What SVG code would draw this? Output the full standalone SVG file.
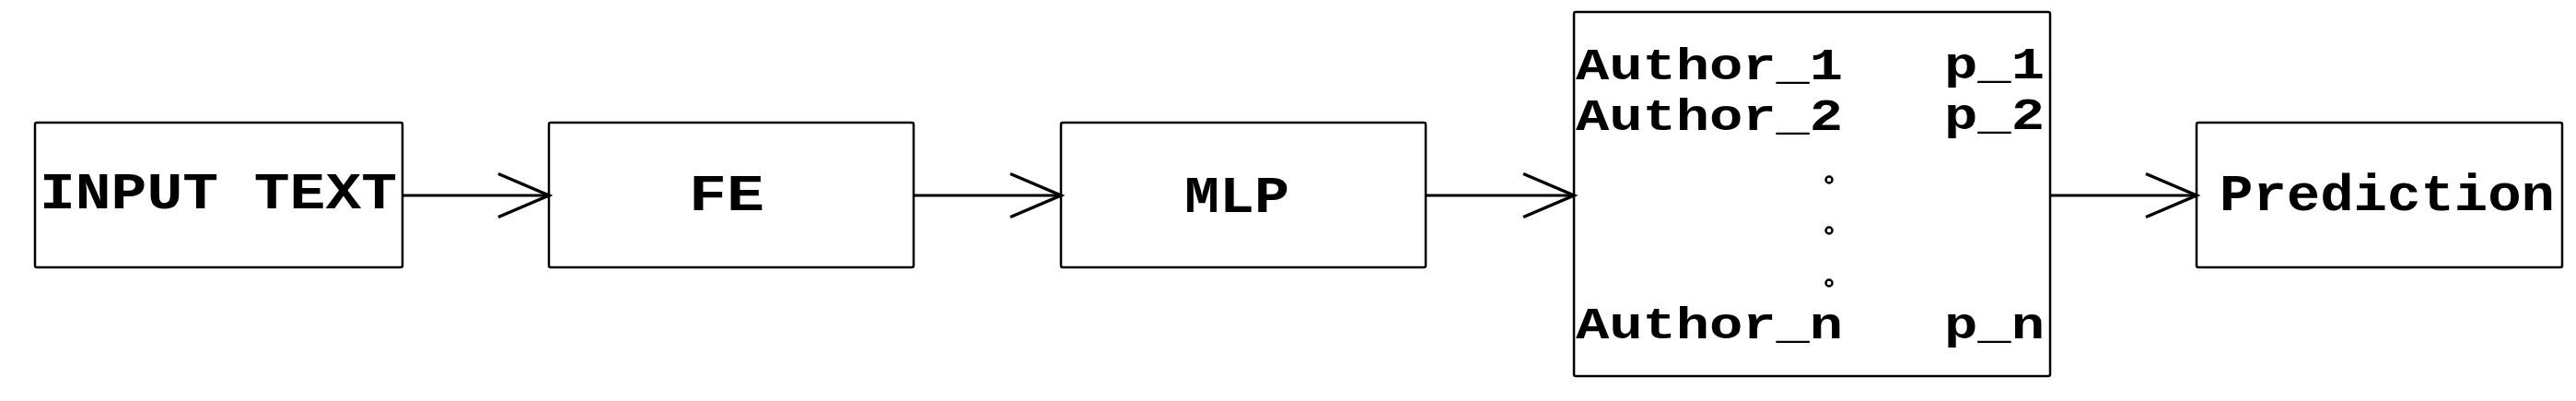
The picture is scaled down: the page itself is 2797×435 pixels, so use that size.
<svg xmlns="http://www.w3.org/2000/svg" width="2797" height="435" viewBox="0 0 2797 435">
<style>
.box{fill:#fff;stroke:#000;stroke-width:2.5}
.lbl{font-family:"Liberation Mono","Courier New",monospace;font-weight:bold;font-size:55px;fill:#000}
.sm{font-size:48px}
.edge{stroke:#000;stroke-width:3;fill:none}
.head{stroke:#000;stroke-width:3.5;fill:none;stroke-linecap:butt}
.dot{fill:none;stroke:#000;stroke-width:2.5}
</style>
<g id="input">
<rect class="box" x="38" y="133" width="399" height="157" rx="2"/>
<text class="lbl" x="43" y="226" textLength="388" lengthAdjust="spacingAndGlyphs">INPUT TEXT</text>
</g>
<g id="fe">
<rect class="box" x="596" y="133" width="396" height="157" rx="2"/>
<text class="lbl" x="748" y="228" textLength="82" lengthAdjust="spacingAndGlyphs">FE</text>
</g>
<g id="mlp">
<rect class="box" x="1152" y="133" width="396" height="157" rx="2"/>
<text class="lbl" x="1286" y="230" textLength="114" lengthAdjust="spacingAndGlyphs">MLP</text>
</g>
<g id="authors">
<rect class="box" x="1709" y="13" width="517" height="395" rx="2"/>
<text class="lbl sm" x="1711" y="86" textLength="290" lengthAdjust="spacingAndGlyphs">Author_1</text>
<text class="lbl sm" x="2111" y="85" textLength="109" lengthAdjust="spacingAndGlyphs">p_1</text>
<text class="lbl sm" x="1711" y="141" textLength="290" lengthAdjust="spacingAndGlyphs">Author_2</text>
<text class="lbl sm" x="2111" y="140" textLength="109" lengthAdjust="spacingAndGlyphs">p_2</text>
<circle class="dot" cx="1986" cy="195" r="3.5"/>
<circle class="dot" cx="1986" cy="250" r="3.5"/>
<circle class="dot" cx="1986" cy="307" r="3.5"/>
<text class="lbl sm" x="1711" y="367" textLength="290" lengthAdjust="spacingAndGlyphs">Author_n</text>
<text class="lbl sm" x="2111" y="367" textLength="109" lengthAdjust="spacingAndGlyphs">p_n</text>
</g>
<g id="prediction">
<rect class="box" x="2385" y="133" width="397" height="157" rx="2"/>
<text class="lbl" x="2410" y="228" textLength="364" lengthAdjust="spacingAndGlyphs">Prediction</text>
</g>
<g id="connectors">
<path class="edge" d="M437 212H596"/>
<path class="head" d="M541 188.5L596 212L541 235.5"/>
<path class="edge" d="M992 212H1152"/>
<path class="head" d="M1097 188.5L1152 212L1097 235.5"/>
<path class="edge" d="M1548 212H1709"/>
<path class="head" d="M1654 188.5L1709 212L1654 235.5"/>
<path class="edge" d="M2226 212H2385"/>
<path class="head" d="M2330 188.5L2385 212L2330 235.5"/>
</g>
</svg>
